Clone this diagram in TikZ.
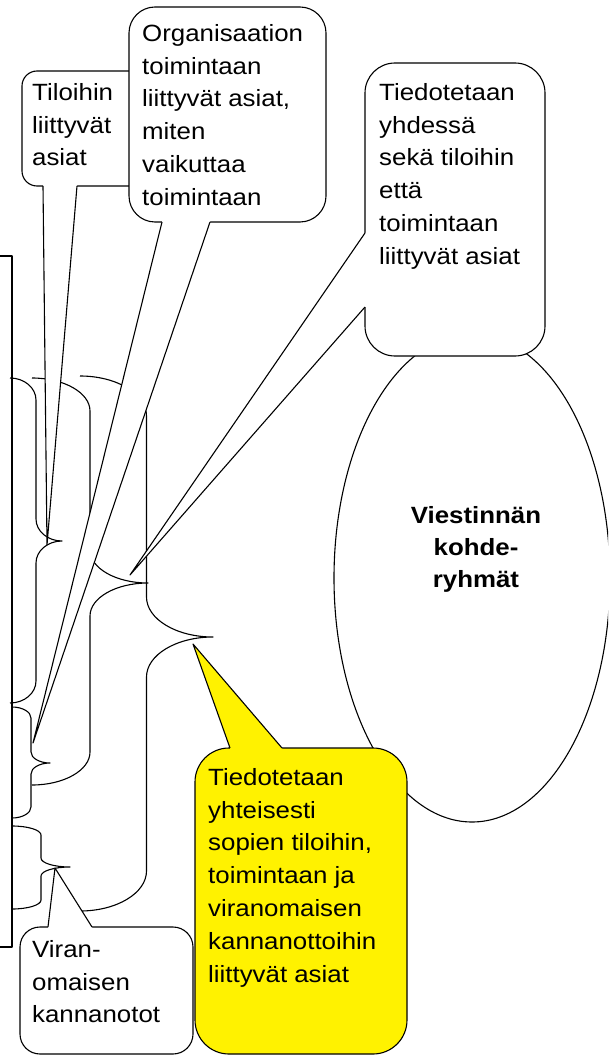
\documentclass[tikz,border=0pt]{standalone}
\usepackage{fontspec}
\setmainfont{Liberation Sans}[FakeStretch=1.1]
\tikzset{
  ln/.style={line width=1.1pt, line join=round},
  txt/.style={inner sep=0pt, anchor=north west, align=left, font=\fontsize{23.5}{32.8}\selectfont},
  btxt/.style={inner sep=0pt, anchor=north, align=center, font=\fontsize{23.5}{32}\selectfont\bfseries},
  callout/.style={ln, fill=white},
}
\newcommand\RBrace[6]{% left, right, top, tip, bottom, arc height
  \pgfmathsetmacro\BrL{#1}\pgfmathsetmacro\BrR{#2}\pgfmathsetmacro\BrT{#3}%
  \pgfmathsetmacro\BrM{#4}\pgfmathsetmacro\BrB{#5}\pgfmathsetmacro\BrD{#6}%
  \pgfmathsetmacro\BrH{(\BrL+\BrR)/2}\pgfmathsetmacro\BrW{0.5523*(\BrR-\BrL)/2}%
  \pgfmathsetmacro\BrK{0.5523*\BrD}%
  \draw[ln] (\BrL,\BrT) .. controls ({\BrL+\BrW},\BrT) and (\BrH,{\BrT+\BrD-\BrK}) .. (\BrH,{\BrT+\BrD})
    -- (\BrH,{\BrM-\BrD}) .. controls (\BrH,{\BrM-\BrD+\BrK}) and ({\BrR-\BrW},\BrM) .. (\BrR,\BrM)
    .. controls ({\BrR-\BrW},\BrM) and (\BrH,{\BrM+\BrD-\BrK}) .. (\BrH,{\BrM+\BrD})
    -- (\BrH,{\BrB-\BrD}) .. controls (\BrH,{\BrB-\BrD+\BrK}) and ({\BrL+\BrW},\BrB) .. (\BrL,\BrB);}
\begin{document}
\begin{tikzpicture}[x=1pt,y=-1pt]
\useasboundingbox (0,0) rectangle (608,1056);
\clip (0,0) rectangle (608,1056);
\fill[white] (0,0) rectangle (608,1056);
% partial frame at the left edge
\draw[ln] (-20,256) -- (12,256) -- (12,947) -- (-20,947);
% braces
\RBrace{10}{62}{378}{541}{703}{22}
\RBrace{12}{50}{707}{763}{818}{11}
\RBrace{12}{70}{826}{867}{909}{9}
\RBrace{32}{148}{378}{583}{785}{33}
\RBrace{80}{213}{376}{637}{911}{40}
% target ellipse
\draw[ln, fill=white] (472,578) ellipse [x radius=138pt, y radius=244pt];
\node[btxt] (kohde) at (476,506) {Viestinnän\\kohde-\\ryhmät};
% callout: Tiloihin
\draw[callout, rounded corners=15pt] (22,71) rectangle (150,186);
\fill[white] (43,183) -- (43,186) -- (47,545) -- (77,186) -- (77,183) -- cycle;
\draw[ln] (43,186) -- (47,545) -- (77,186);
\node[txt] (tiloihin) at (32,83) {Tiloihin\\liittyvät\\asiat};
% callout: Organisaation
\draw[callout, rounded corners=26pt] (129,7) rectangle (326,222);
\fill[white] (162,219) -- (162,222) -- (33,743) -- (210,222) -- (210,219) -- cycle;
\draw[ln] (162,222) -- (33,743) -- (210,222);
\node[txt] (org) at (142,24) {Organisaation\\toimintaan\\liittyvät asiat,\\miten\\vaikuttaa\\toimintaan};
% callout: Tiedotetaan yhdessa
\draw[callout, rounded corners=30pt] (365,63) rectangle (545,356);
\fill[white] (368,233) -- (365,233) -- (130,575) -- (365,307) -- (368,307) -- cycle;
\draw[ln] (365,233) -- (130,575) -- (365,307);
\node[txt] (yhdessa) at (379,83) {Tiedotetaan\\yhdessä\\sekä tiloihin\\että\\toimintaan\\liittyvät asiat};
% callout: Viranomaisen
\draw[callout, rounded corners=20pt] (20,927) rectangle (193,1054);
\fill[white] (48,930) -- (48,927) -- (55,868) -- (92,927) -- (92,930) -- cycle;
\draw[ln] (48,927) -- (55,868) -- (92,927);
\node[txt] (viran) at (32,940) {Viran-\\omaisen\\kannanotot};
% callout: yellow
\draw[ln, fill=yellow, rounded corners=34pt] (195,748) rectangle (407,1054);
\fill[yellow] (230,751) -- (230,748) -- (193,644) -- (282,748) -- (282,751) -- cycle;
\draw[ln] (230,748) -- (193,644) -- (282,748);
\node[txt] (yhteisesti) at (208,768) {Tiedotetaan\\yhteisesti\\sopien tiloihin,\\toimintaan ja\\viranomaisen\\kannanottoihin\\liittyvät asiat};
\end{tikzpicture}
\end{document}
